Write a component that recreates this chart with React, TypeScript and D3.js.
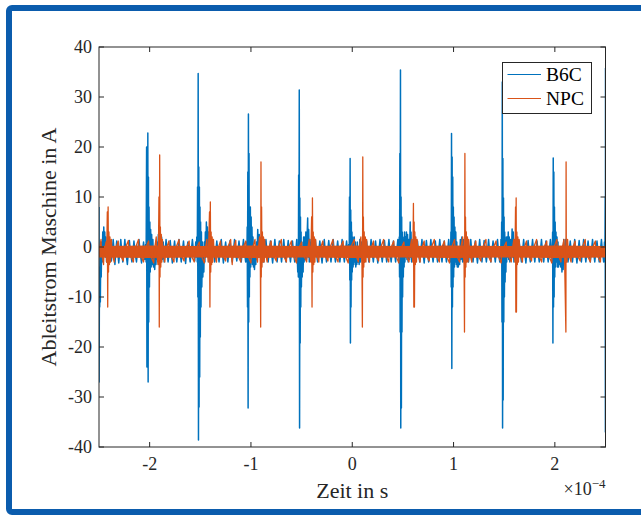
import React from "react";
import * as d3 from "d3";

// ---- data (time in units of 1e-4 s, current in A) ----
const SERIES_NAMES = ["B6C", "NPC"];
const SERIES_COLORS = ["#0072BD", "#D95319"];
const X_TICKS = [-2, -1, 0, 1, 2];
const Y_TICKS = [-40, -30, -20, -10, 0, 10, 20, 30, 40];
const X_DOMAIN: [number, number] = [-2.5, 2.5];
const Y_DOMAIN: [number, number] = [-40, 40];

const B6C: [number, number][] = [
  [-2.5, 8], [-2.499, -27], [-2.496, -8], [-2.493, -12], [-2.49, -4], [-2.487, -11], [-2.483, -2], [-2.478, -6],
  [-2.473, 1], [-2.468, -3], [-2.463, 3], [-2.458, -2], [-2.453, 4], [-2.448, 0], [-2.443, 3], [-2.438, -2],
  [-2.432, 2], [-2.425, -3], [-2.418, 1], [-2.41, -3.5], [-2.402, 0.5], [-2.395, -3], [-2.385, 1], [-2.378, -2.8],
  [-2.37, -1], [-2.36, 1.5], [-2.35, -1], [-2.343, -3.5], [-2.335, -1], [-2.325, 1.2], [-2.315, -1], [-2.305, -3.2],
  [-2.295, -1], [-2.285, 1.5], [-2.275, -1], [-2.265, -3], [-2.255, -1], [-2.245, 1.5], [-2.235, -1], [-2.22, -3.5],
  [-2.21, -1], [-2.2, 1.3], [-2.19, -1], [-2.175, -3], [-2.165, -1], [-2.155, 1.2], [-2.145, -1], [-2.13, -3],
  [-2.12, -1], [-2.105, 1.5], [-2.095, -1], [-2.08, -3.2], [-2.07, -1], [-2.06, 1], [-2.05, -2.5],
  [-2.04, 0.5], [-2.035, -3], [-2.03, 20], [-2.027, -24], [-2.024, 18], [-2.021, -22], [-2.018, 22.8], [-2.015, -27],
  [-2.012, 14], [-2.009, -15], [-2.006, 8], [-2.002, -8], [-1.998, 5], [-1.994, -5], [-1.99, 3.5], [-1.985, -4],
  [-1.98, 2.5], [-1.975, -3.5], [-1.968, 1.5], [-1.962, -4], [-1.956, -2], [-1.95, -4.5], [-1.944, -1.5], [-1.938, -3.5],
  [-1.93, 1], [-1.922, -2.5], [-1.914, 2.5], [-1.906, -2], [-1.898, 3], [-1.89, -1.5], [-1.882, 2], [-1.874, -2.5],
  [-1.866, 1], [-1.857, -3], [-1.848, -1], [-1.838, 1.5], [-1.828, -1], [-1.818, -3], [-1.808, -1], [-1.797, 1.3],
  [-1.787, -1], [-1.776, -3.2], [-1.766, -1], [-1.754, 1.2], [-1.744, -1], [-1.732, -3], [-1.722, -1], [-1.71, 1.5],
  [-1.7, -1], [-1.688, -3], [-1.678, -1], [-1.666, 1.2], [-1.656, -1], [-1.645, -3.3], [-1.635, -1], [-1.623, 1],
  [-1.612, -1], [-1.6, -3], [-1.59, -1], [-1.578, 1.5], [-1.567, -1], [-1.555, -2.8], [-1.545, 1],
  [-1.54, -2], [-1.535, 2], [-1.53, -3], [-1.527, 12], [-1.524, -10], [-1.521, 34.7], [-1.518, -38.6], [-1.515, 16],
  [-1.512, -32], [-1.509, 12], [-1.506, -26], [-1.503, 8], [-1.5, -18], [-1.497, 5], [-1.493, -12], [-1.489, 3],
  [-1.485, -8], [-1.48, 1], [-1.475, -6], [-1.47, 0], [-1.465, -5], [-1.46, 1], [-1.455, -3], [-1.45, 3],
  [-1.445, -2], [-1.44, 5], [-1.435, -1], [-1.43, 4], [-1.425, -2], [-1.42, 3], [-1.414, -3], [-1.408, 2],
  [-1.4, -2.5], [-1.392, 1.5], [-1.384, -3], [-1.376, 1], [-1.368, -1], [-1.358, -3], [-1.348, -1], [-1.337, 1.2],
  [-1.327, -1], [-1.315, -3], [-1.305, -1], [-1.293, 1.5], [-1.283, -1], [-1.272, -3.2], [-1.262, -1], [-1.25, 1],
  [-1.24, -1], [-1.228, -3], [-1.218, -1], [-1.206, 1.3], [-1.196, -1], [-1.184, -3], [-1.174, -1], [-1.162, 1.5],
  [-1.152, -1], [-1.14, -2.8], [-1.13, -1], [-1.118, 1.2], [-1.108, -1], [-1.096, -3], [-1.086, -1], [-1.074, 1.5],
  [-1.064, -1], [-1.052, -3], [-1.045, 1],
  [-1.04, -3], [-1.037, 4], [-1.034, -12], [-1.031, 15], [-1.028, -32.2], [-1.025, 26.6], [-1.022, -15], [-1.019, 18.7],
  [-1.016, -10], [-1.013, 8], [-1.01, -6], [-1.006, 8], [-1.002, -4], [-0.998, 6], [-0.994, -3], [-0.99, 4],
  [-0.985, -3.5], [-0.98, 2], [-0.975, -4], [-0.97, 0], [-0.965, -4.5], [-0.958, -1], [-0.952, -3.5], [-0.946, 1],
  [-0.94, -2.5], [-0.933, 3.5], [-0.926, -2], [-0.918, 2.5], [-0.91, -1.5], [-0.902, 1.5], [-0.894, -2.5], [-0.884, 1],
  [-0.874, -3], [-0.864, -1], [-0.852, 1.5], [-0.842, -1], [-0.83, -3], [-0.82, -1], [-0.808, 1.2], [-0.798, -1],
  [-0.786, -3.2], [-0.776, -1], [-0.764, 1.5], [-0.754, -1], [-0.742, -3], [-0.732, -1], [-0.72, 1.2], [-0.71, -1],
  [-0.698, -3], [-0.688, -1], [-0.676, 1.5], [-0.666, -1], [-0.654, -3], [-0.644, -1], [-0.632, 1.3], [-0.622, -1],
  [-0.61, -3], [-0.6, -1], [-0.59, 1.2], [-0.58, -1], [-0.568, -3], [-0.558, -1], [-0.548, 1.5],
  [-0.543, -2], [-0.538, -5], [-0.535, -1], [-0.532, -6], [-0.529, 14.4], [-0.526, -5.3], [-0.523, 31.4], [-0.52, -36.2],
  [-0.517, 9.8], [-0.514, -19.2], [-0.511, 6], [-0.508, -12], [-0.505, 3], [-0.502, -8], [-0.498, 1], [-0.494, -6],
  [-0.49, -1], [-0.485, -5], [-0.48, 2], [-0.475, -3], [-0.47, 2], [-0.465, -2.5], [-0.458, 3], [-0.452, -2.5],
  [-0.446, 2], [-0.44, 5.8], [-0.436, -2], [-0.43, 3.5], [-0.424, -3], [-0.417, 1.5], [-0.41, -2.5], [-0.402, 1],
  [-0.394, -3], [-0.386, 1.5], [-0.376, -1], [-0.364, 1.5], [-0.354, -1], [-0.342, -3], [-0.332, -1], [-0.32, 1.2],
  [-0.31, -1], [-0.298, -3.2], [-0.288, -1], [-0.276, 1.5], [-0.266, -1], [-0.254, -3], [-0.244, -1], [-0.232, 1.3],
  [-0.222, -1], [-0.21, -3], [-0.2, -1], [-0.188, 1.5], [-0.178, -1], [-0.166, -3], [-0.156, -1], [-0.144, 1.2],
  [-0.134, -1], [-0.122, -3], [-0.112, -1], [-0.1, 1.5], [-0.09, -1], [-0.078, -3], [-0.068, -1], [-0.056, 1.2],
  [-0.046, -1],
  [-0.035, 0.5], [-0.03, -3], [-0.027, 10], [-0.024, -6.6], [-0.021, 17.7], [-0.018, -19.2], [-0.015, 7.4], [-0.012, -12],
  [-0.009, 5], [-0.006, -6.6], [-0.003, 3], [0.0, -5], [0.004, 2], [0.008, -4], [0.012, 1], [0.016, -3.5],
  [0.02, 2], [0.025, -3], [0.03, 1], [0.035, -4], [0.04, -1.5], [0.045, -3.5], [0.05, 1], [0.056, -3],
  [0.062, -1.5], [0.068, -3.5], [0.075, 1.5], [0.082, -3], [0.09, 1], [0.1, -2], [0.11, 1.5], [0.12, -3],
  [0.13, -1], [0.142, 1.2], [0.152, -1], [0.164, -3], [0.174, -1], [0.186, 1.5], [0.196, -1], [0.208, -3],
  [0.218, -1], [0.23, 1.2], [0.24, -1], [0.252, -3.2], [0.262, -1], [0.274, 1.5], [0.284, -1], [0.296, -3],
  [0.306, -1], [0.318, 1.3], [0.328, -1], [0.34, -3], [0.35, -1], [0.362, 1.5], [0.372, -1], [0.384, -3],
  [0.394, -1], [0.406, 1.2], [0.416, -1], [0.428, -3], [0.438, -1], [0.45, 1.5], [0.458, -1],
  [0.46, -3], [0.464, 2], [0.467, -6], [0.47, 18.7], [0.473, -17], [0.476, 35.4], [0.479, -36.2], [0.482, 10],
  [0.485, -32.2], [0.488, 6], [0.491, -17], [0.494, 3], [0.497, -10], [0.5, 2], [0.504, -6], [0.508, 1],
  [0.512, -4], [0.516, 3], [0.52, -3], [0.525, 2], [0.53, -2], [0.535, 3], [0.54, -2.5], [0.546, 2.5],
  [0.552, -3], [0.558, 1.5], [0.565, -2.5], [0.572, 5], [0.576, -2], [0.58, 3], [0.586, -3], [0.592, -1],
  [0.6, 1.5], [0.61, -1], [0.622, -3], [0.632, -1], [0.644, 1.2], [0.654, -1], [0.666, -3], [0.676, -1],
  [0.688, 1.5], [0.698, -1], [0.71, -3.2], [0.72, -1], [0.732, 1.3], [0.742, -1], [0.754, -3], [0.764, -1],
  [0.776, 1.5], [0.786, -1], [0.798, -3], [0.808, -1], [0.82, 1.2], [0.83, -1], [0.842, -3], [0.852, -1],
  [0.864, 1.5], [0.874, -1], [0.886, -3], [0.896, -1], [0.908, 1.2], [0.918, -1], [0.93, -3], [0.94, -1],
  [0.952, 1.5], [0.962, -1],
  [0.97, -3], [0.974, 3], [0.977, -8], [0.98, 22.7], [0.983, -24.3], [0.986, 18], [0.989, -12], [0.992, 14],
  [0.995, -8], [0.998, 8], [1.001, -6], [1.005, 6], [1.009, -4], [1.013, 4], [1.017, -3], [1.022, 3],
  [1.027, -3.5], [1.032, 1], [1.037, -4], [1.042, 0], [1.047, -4], [1.053, -1], [1.06, -3.5], [1.067, 1.5],
  [1.074, -2.5], [1.082, 2], [1.09, -3], [1.098, 1.5], [1.106, -3], [1.116, -1], [1.126, 1.2], [1.136, -1],
  [1.148, -3], [1.158, -1], [1.17, 1.5], [1.18, -1], [1.192, -3], [1.202, -1], [1.214, 1.2], [1.224, -1],
  [1.236, -3.2], [1.246, -1], [1.258, 1.5], [1.268, -1], [1.28, -3], [1.29, -1], [1.302, 1.3], [1.312, -1],
  [1.324, -3], [1.334, -1], [1.346, 1.5], [1.356, -1], [1.368, -3], [1.378, -1], [1.39, 1.2], [1.4, -1],
  [1.412, -3], [1.422, -1], [1.434, 1.5], [1.444, -1], [1.456, -3], [1.466, -1],
  [1.468, 1.5], [1.472, -3], [1.475, 5], [1.478, -15], [1.481, 33], [1.484, -36.2], [1.487, 17.7], [1.49, -30.6],
  [1.493, 9.8], [1.496, -15], [1.499, 6], [1.502, -10], [1.505, 3], [1.509, -7], [1.513, 1], [1.517, -5],
  [1.521, 2], [1.525, -3], [1.53, 2], [1.535, -2], [1.54, 3], [1.545, -2.5], [1.55, 2], [1.556, -3],
  [1.562, 1.5], [1.57, -2.5], [1.578, 3.6], [1.584, -2], [1.59, 3], [1.596, -3], [1.605, 1.5], [1.615, -1],
  [1.626, -3], [1.636, -1], [1.648, 1.2], [1.658, -1], [1.67, -3], [1.68, -1], [1.692, 1.5], [1.702, -1],
  [1.714, -3.2], [1.724, -1], [1.736, 1.3], [1.746, -1], [1.758, -3], [1.768, -1], [1.78, 1.5], [1.79, -1],
  [1.802, -3], [1.812, -1], [1.824, 1.2], [1.834, -1], [1.846, -3], [1.856, -1], [1.868, 1.5], [1.878, -1],
  [1.89, -3], [1.9, -1], [1.912, 1.2], [1.922, -1], [1.934, -3], [1.944, -1], [1.956, 1.5], [1.966, -1],
  [1.974, -3], [1.978, 3], [1.981, -19.2], [1.984, 17.8], [1.987, -12], [1.99, 15], [1.993, -10], [1.996, 8],
  [1.999, -6], [2.003, 5], [2.007, -4], [2.011, 3], [2.016, -3], [2.021, 2], [2.026, -4], [2.031, 1],
  [2.036, -4], [2.041, -1], [2.046, -3.5], [2.052, 0], [2.058, -4], [2.064, -2], [2.07, -5], [2.076, -1.5],
  [2.082, -4.5], [2.088, 1.5], [2.094, -3], [2.102, -1], [2.108, 1.5], [2.118, -1], [2.13, -3], [2.14, -1],
  [2.152, 1.2], [2.162, -1], [2.174, -3], [2.184, -1], [2.196, 1.5], [2.206, -1], [2.218, -3.2], [2.228, -1],
  [2.24, 1.3], [2.25, -1], [2.262, -3], [2.272, -1], [2.284, 1.5], [2.294, -1], [2.306, -3], [2.316, -1],
  [2.328, 1.2], [2.338, -1], [2.35, -3], [2.36, -1], [2.372, 1.5], [2.382, -1], [2.394, -3], [2.404, -1],
  [2.416, 1.2], [2.426, -1], [2.438, -3], [2.448, -1], [2.46, 1.5], [2.47, -1], [2.482, -3], [2.49, 1],
  [2.494, -3], [2.497, 10], [2.499, -37], [2.5, 35.8],
];

const NPC: [number, number][] = [
  [-2.5, -1], [-2.48, 1.5], [-2.475, -1], [-2.455, -3.5], [-2.45, -1], [-2.43, 1], [-2.425, -3],
  [-2.418, 7], [-2.414, -12], [-2.41, 8], [-2.406, -5], [-2.402, 3], [-2.397, -3.5], [-2.392, 2], [-2.386, -3],
  [-2.378, 1.5], [-2.372, -1],
  [-2.35, -3], [-2.345, -1], [-2.31, 1.2], [-2.305, -1], [-2.26, -2.8], [-2.255, -1], [-2.21, 1.3], [-2.205, -1],
  [-2.16, -3], [-2.155, -1], [-2.11, 1.5], [-2.105, -1], [-2.06, -3], [-2.055, -1], [-2.01, 1.2], [-2.005, -1],
  [-1.96, -3.2], [-1.955, -1], [-1.935, 2], [-1.93, -1], [-1.918, -3.5], [-1.912, 2],
  [-1.908, 10], [-1.905, -16], [-1.901, 18.4], [-1.898, -6], [-1.894, 4], [-1.89, -4], [-1.885, 2.5], [-1.88, -3],
  [-1.874, 1.5], [-1.868, -1],
  [-1.85, -3], [-1.845, -1], [-1.81, 1.2], [-1.805, -1], [-1.76, -3], [-1.755, -1], [-1.71, 1.5], [-1.705, -1],
  [-1.66, -2.8], [-1.655, -1], [-1.61, 1.2], [-1.605, -1], [-1.56, -3], [-1.555, -1], [-1.51, 1], [-1.505, -1],
  [-1.46, -3.2], [-1.455, -1], [-1.435, 1.5], [-1.43, -1], [-1.422, -3],
  [-1.409, 7], [-1.405, -12], [-1.401, 9], [-1.397, -5], [-1.393, 3], [-1.388, -3.5], [-1.383, 2], [-1.377, -3],
  [-1.37, 1.5], [-1.364, -1],
  [-1.34, -3], [-1.335, -1], [-1.3, 1.2], [-1.295, -1], [-1.25, -2.8], [-1.245, -1], [-1.2, 1.5], [-1.195, -1],
  [-1.185, -3.5], [-1.18, -1], [-1.15, 1.3], [-1.145, -1], [-1.1, -3], [-1.095, -1], [-1.05, 1.2], [-1.045, -1],
  [-1.0, -3.2], [-0.995, -1], [-0.96, 1.5], [-0.955, -1], [-0.935, -3], [-0.93, -1], [-0.915, 2],
  [-0.907, -3.5], [-0.904, -16], [-0.901, 17], [-0.898, -6], [-0.895, 8], [-0.891, -4], [-0.887, 3], [-0.882, -3],
  [-0.876, 2], [-0.87, -3], [-0.864, 1.5], [-0.858, -1],
  [-0.84, -3], [-0.835, -1], [-0.8, 1.2], [-0.795, -1], [-0.75, -2.8], [-0.745, -1], [-0.7, 1.5], [-0.695, -1],
  [-0.65, -3], [-0.645, -1], [-0.6, 1.2], [-0.595, -1], [-0.55, -3.2], [-0.545, -1], [-0.5, 1], [-0.495, -1],
  [-0.45, -3], [-0.445, -1], [-0.425, 1.5], [-0.42, -1], [-0.41, -3],
  [-0.401, 6], [-0.397, -12], [-0.393, 9.8], [-0.389, -5], [-0.385, 3], [-0.38, -3.5], [-0.375, 2], [-0.369, -3],
  [-0.362, 1.5], [-0.356, -1],
  [-0.33, -3], [-0.325, -1], [-0.29, 1.2], [-0.285, -1], [-0.24, -2.8], [-0.235, -1], [-0.19, 1.5], [-0.185, -1],
  [-0.14, -3], [-0.135, -1], [-0.09, 1.2], [-0.085, -1], [-0.04, -3.2], [-0.035, -1], [0.02, 1.5], [0.025, -1],
  [0.06, -3], [0.065, -1], [0.085, 2], [0.09, -1], [0.096, -3.5],
  [0.1, -16], [0.104, 18], [0.107, -6], [0.11, 6], [0.114, -4], [0.118, 3], [0.123, -3], [0.129, 2],
  [0.135, -3], [0.142, 1.5], [0.148, -1],
  [0.17, -3], [0.175, -1], [0.21, 1.2], [0.215, -1], [0.26, -2.8], [0.265, -1], [0.31, 1.5], [0.315, -1],
  [0.36, -3], [0.365, -1], [0.41, 1.2], [0.415, -1], [0.46, -3.2], [0.465, -1], [0.51, 1], [0.515, -1],
  [0.56, -3], [0.565, -1], [0.585, 1.5], [0.59, -1], [0.598, -3],
  [0.604, 8.7], [0.608, -12], [0.611, 5], [0.614, -12], [0.618, 3], [0.623, -3.5], [0.628, 2], [0.634, -3],
  [0.641, 1.5], [0.647, -1],
  [0.67, -3], [0.675, -1], [0.71, 1.2], [0.715, -1], [0.76, -2.8], [0.765, -1], [0.81, 1.5], [0.815, -1],
  [0.86, -3], [0.865, -1], [0.91, 1.2], [0.915, -1], [0.96, -3.2], [0.965, -1], [1.01, 1.5], [1.015, -1],
  [1.06, -3], [1.065, -1], [1.09, 2], [1.095, -1], [1.104, -3.5],
  [1.108, -17], [1.112, 18.7], [1.115, -6], [1.118, 6], [1.122, -4], [1.126, 3], [1.131, -3], [1.137, 2],
  [1.143, -3], [1.15, 1.5], [1.156, -1],
  [1.18, -3], [1.185, -1], [1.22, 1.2], [1.225, -1], [1.27, -2.8], [1.275, -1], [1.32, 1.5], [1.325, -1],
  [1.37, -3], [1.375, -1], [1.42, 1.2], [1.425, -1], [1.47, -3.2], [1.475, -1], [1.52, 1], [1.525, -1],
  [1.57, -3], [1.575, -1], [1.595, 1.5], [1.6, -1], [1.606, -3],
  [1.612, 8], [1.615, -13], [1.618, 9.8], [1.621, -13], [1.625, 3], [1.63, -3.5], [1.635, 2], [1.641, -3],
  [1.648, 1.5], [1.654, -1],
  [1.68, -3], [1.685, -1], [1.72, 1.2], [1.725, -1], [1.77, -2.8], [1.775, -1], [1.82, 1.5], [1.825, -1],
  [1.87, -3], [1.875, -1], [1.92, 1.2], [1.925, -1], [1.97, -3.2], [1.975, -1], [2.02, 1.5], [2.025, -1],
  [2.06, -3], [2.065, -1], [2.09, 1.5], [2.095, -1],
  [2.109, -17], [2.111, 17], [2.113, -1], [2.12, -3], [2.126, 1.5], [2.132, -1],
  [2.16, -3], [2.165, -1], [2.2, 1.2], [2.205, -1], [2.25, -2.8], [2.255, -1], [2.3, 1.5], [2.305, -1],
  [2.35, -3], [2.355, -1], [2.4, 1.2], [2.405, -1], [2.45, -3], [2.455, -1], [2.5, -1],
];

// envelope of the dense NPC switching ripple (solid band)
const NPC_BAND_T = [-2.5, -2.0, -1.5, -1.0, -0.5, 0.0, 0.5, 1.0, 1.5, 2.0, 2.5];
const NPC_BAND_HI = [0.2, 0.3, 0.2, 0.3, 0.2, 0.3, 0.2, 0.3, 0.2, 0.3, 0.2];
const NPC_BAND_LO = [-2.1, -2.2, -2.1, -2.2, -2.1, -2.2, -2.1, -2.2, -2.1, -2.2, -2.1];

const FONT = "'Liberation Serif', 'Times New Roman', serif";
const AX = "#262626";

export default function App() {
  const left = 99, right = 605.5, top = 47, bottom = 447;
  const x = d3.scaleLinear().domain(X_DOMAIN).range([left, right]);
  const y = d3.scaleLinear().domain(Y_DOMAIN).range([bottom, top]);
  const line = d3.line<[number, number]>().x((d) => x(d[0])).y((d) => y(d[1]));
  const band = d3
    .area<number>()
    .x((t) => x(t))
    .y0((_, i) => y(NPC_BAND_LO[i]))
    .y1((_, i) => y(NPC_BAND_HI[i]));
  const tickLen = 5;

  return (
    <svg
      width={641}
      height={517}
      style={{ position: "absolute", left: 0, top: 0, background: "#fff" }}
    >
      <rect x={9} y={8} width={640} height={504} rx={3} fill="#fff" stroke="#0b5cad" strokeWidth={6} />
      <defs>
        <clipPath id="plotclip">
          <rect x={left} y={top} width={right - left} height={bottom - top} />
        </clipPath>
      </defs>
      <rect x={left} y={top} width={right - left} height={bottom - top} fill="#fff" />
      <g clipPath="url(#plotclip)">
        <path d={line(B6C) || ""} fill="none" stroke={SERIES_COLORS[0]} strokeWidth={1.5} strokeLinejoin="round" />
        <path d={band(NPC_BAND_T) || ""} fill={SERIES_COLORS[1]} stroke="none" />
        <path d={line(NPC) || ""} fill="none" stroke={SERIES_COLORS[1]} strokeWidth={1.3} strokeLinejoin="round" />
      </g>
      {/* box */}
      <rect x={left} y={top} width={right - left} height={bottom - top} fill="none" stroke={AX} strokeWidth={1} />
      {X_TICKS.map((t) => (
        <g key={"xt" + t}>
          <line x1={x(t)} x2={x(t)} y1={bottom} y2={bottom - tickLen} stroke={AX} strokeWidth={1} />
          <line x1={x(t)} x2={x(t)} y1={top} y2={top + tickLen} stroke={AX} strokeWidth={1} />
          <text x={x(t)} y={bottom + 23} textAnchor="middle" fontFamily={FONT} fontSize={18} fill={AX}>
            {String(t)}
          </text>
        </g>
      ))}
      {Y_TICKS.map((t) => (
        <g key={"yt" + t}>
          <line x1={left} x2={left + tickLen} y1={y(t)} y2={y(t)} stroke={AX} strokeWidth={1} />
          <line x1={right} x2={right - tickLen} y1={y(t)} y2={y(t)} stroke={AX} strokeWidth={1} />
          <text x={left - 7} y={y(t) + 6} textAnchor="end" fontFamily={FONT} fontSize={18} fill={AX}>
            {String(t)}
          </text>
        </g>
      ))}
      <text x={(left + right) / 2} y={498} textAnchor="middle" fontFamily={FONT} fontSize={22} fill={AX}>
        Zeit in s
      </text>
      <text x={right} y={495} textAnchor="end" fontFamily={FONT} fontSize={18} fill={AX}>
        ×10<tspan dy={-7} fontSize={13}>−4</tspan>
      </text>
      <text
        transform={`translate(55.5, ${(top + bottom) / 2}) rotate(-90)`}
        textAnchor="middle"
        fontFamily={FONT}
        fontSize={22}
        fill={AX}
      >
        Ableitstrom Maschine in A
      </text>
      {/* legend */}
      <rect x={502.5} y={62.5} width={89} height={51} fill="#fff" stroke={AX} strokeWidth={1} />
      {SERIES_NAMES.map((name, i) => (
        <g key={name}>
          <line x1={507.5} x2={541} y1={74.5 + i * 24} y2={74.5 + i * 24} stroke={SERIES_COLORS[i]} strokeWidth={1.2} />
          <text x={546} y={81 + i * 24} fontFamily={FONT} fontSize={19.5} fill="#000">
            {name}
          </text>
        </g>
      ))}
    </svg>
  );
}
